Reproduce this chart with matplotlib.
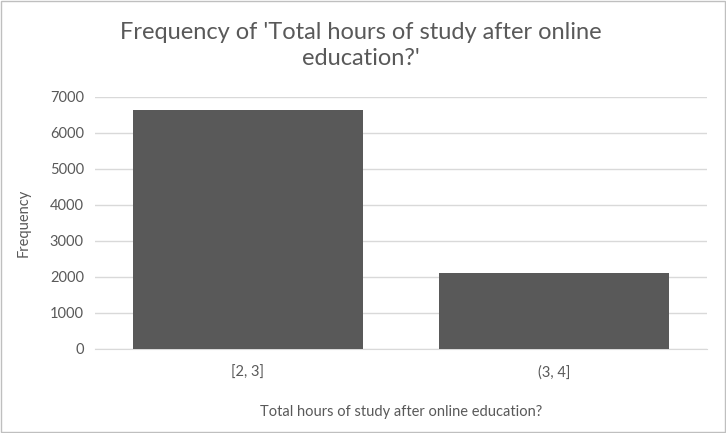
import matplotlib
matplotlib.use("Agg")
import matplotlib.pyplot as plt

categories = ["[2, 3]", "(3, 4]"]
frequency = [6650, 2100]
yticks = [0, 1000, 2000, 3000, 4000, 5000, 6000, 7000]

plt.rcParams['font.family'] = ['Lato', 'DejaVu Sans']
fig = plt.figure(figsize=(7.26, 4.33), dpi=100)
ax = fig.add_axes([95/726, 1-349/433, 612/726, 252/433])
x = list(range(len(categories)))
ax.bar(x, frequency, width=0.75, color="#595959", zorder=3)
ax.set_xlim(-0.5, 1.5)
ax.set_ylim(0, 7000)
ax.set_yticks(yticks)
ax.set_xticks(x)
ax.set_xticklabels(categories)
ax.grid(axis="y", color="#d9d9d9", linewidth=1, zorder=0)
for s in ["top", "right", "left"]:
    ax.spines[s].set_visible(False)
ax.spines["bottom"].set_color("#d9d9d9")
ax.tick_params(axis="both", length=0, labelsize=10.5, colors="#595959", pad=8)
ax.tick_params(axis="x", pad=12)
ax.set_xlabel("Total hours of study after online education?", fontsize=10.5, color="#595959", labelpad=18)
ax.set_ylabel("Frequency", fontsize=10.5, color="#595959", labelpad=14)
fig.text(0.497, 0.895, "Frequency of 'Total hours of study after online\neducation?'",
         ha="center", va="center", fontsize=17, color="#595959", linespacing=1.3)
fig.patches.append(plt.Rectangle((0.002, 0.002), 0.996, 0.996, transform=fig.transFigure,
                                 fill=False, edgecolor="#bfbfbf", linewidth=1))
fig.savefig("out.png", dpi=100)
